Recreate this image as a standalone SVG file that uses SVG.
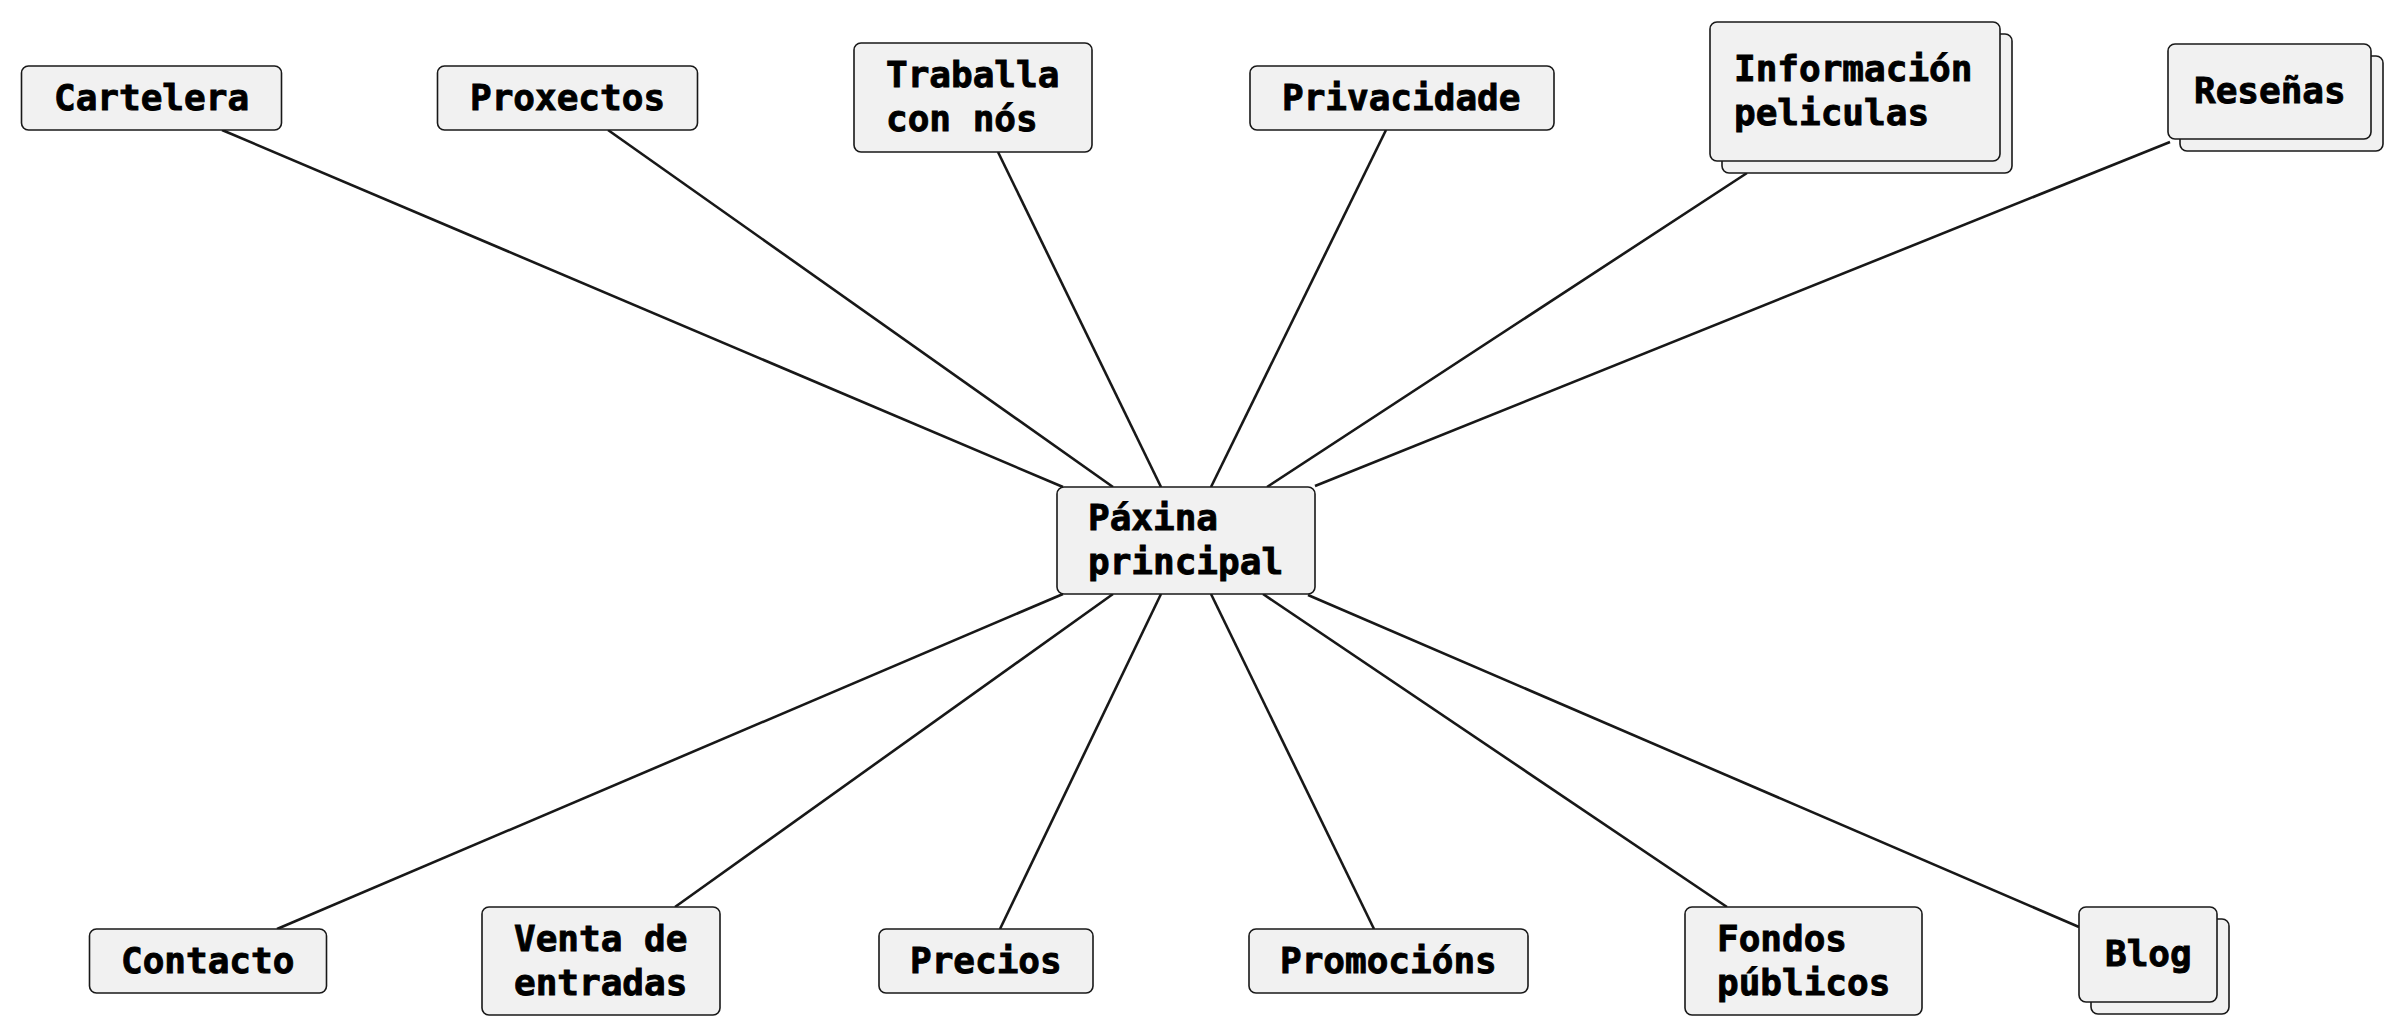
<svg xmlns="http://www.w3.org/2000/svg" width="2400" height="1031" viewBox="0 0 2400 1031">
<style>
.bg{fill:#ffffff}
.box{fill:#f1f1f1;stroke:#181818;stroke-width:1.6}
.edge{stroke:#181818;stroke-width:2.6;fill:none}
.lbl{font-family:"DejaVu Sans Mono","Liberation Mono",monospace;font-weight:bold;font-size:36px;fill:#000000;stroke:#000000;stroke-width:0.9}
</style>
<rect class="bg" x="0" y="0" width="2400" height="1031"/>
<g id="connectors">
<line class="edge" x1="222" y1="130" x2="1063" y2="487"/>
<line class="edge" x1="608" y1="130" x2="1113" y2="487"/>
<line class="edge" x1="998" y1="152" x2="1161" y2="487"/>
<line class="edge" x1="1386" y1="130" x2="1211" y2="487"/>
<line class="edge" x1="1747" y1="173" x2="1267" y2="487"/>
<line class="edge" x1="2170" y1="142" x2="1315" y2="486"/>
<line class="edge" x1="277" y1="929" x2="1063" y2="594"/>
<line class="edge" x1="675" y1="907" x2="1113" y2="594"/>
<line class="edge" x1="1000" y1="929" x2="1161" y2="594"/>
<line class="edge" x1="1374" y1="929" x2="1211" y2="594"/>
<line class="edge" x1="1727" y1="907" x2="1263" y2="594"/>
<line class="edge" x1="2079" y1="927" x2="1308" y2="595"/>
</g>
<g id="node-paxina">
<rect class="box" x="1057" y="487" width="258" height="107" rx="7"/>
<text class="lbl" x="1088" y="530">Páxina</text>
<text class="lbl" x="1088" y="574">principal</text>
</g>
<g id="node-cartelera">
<rect class="box" x="21.5" y="66" width="260" height="64" rx="7"/>
<text class="lbl" x="54" y="109.5">Cartelera</text>
</g>
<g id="node-proxectos">
<rect class="box" x="437.5" y="66" width="260" height="64" rx="7"/>
<text class="lbl" x="470" y="109.5">Proxectos</text>
</g>
<g id="node-traballa">
<rect class="box" x="854" y="43" width="238" height="109" rx="7"/>
<text class="lbl" x="886" y="87">Traballa</text>
<text class="lbl" x="886" y="131">con nós</text>
</g>
<g id="node-privacidade">
<rect class="box" x="1250" y="66" width="304" height="64" rx="7"/>
<text class="lbl" x="1282" y="109.5">Privacidade</text>
</g>
<g id="node-informacion">
<rect class="box" x="1722" y="34" width="290" height="139" rx="7"/>
<rect class="box" x="1710" y="22" width="290" height="139" rx="7"/>
<text class="lbl" x="1734" y="81">Información</text>
<text class="lbl" x="1734" y="125">peliculas</text>
</g>
<g id="node-resenas">
<rect class="box" x="2180" y="56" width="203" height="95" rx="7"/>
<rect class="box" x="2168" y="44" width="203" height="95" rx="7"/>
<text class="lbl" x="2194" y="103">Reseñas</text>
</g>
<g id="node-contacto">
<rect class="box" x="89.5" y="929" width="237" height="64" rx="7"/>
<text class="lbl" x="121" y="972.5">Contacto</text>
</g>
<g id="node-venta">
<rect class="box" x="482" y="907" width="238" height="108" rx="7"/>
<text class="lbl" x="514" y="950.5">Venta de</text>
<text class="lbl" x="514" y="994.5">entradas</text>
</g>
<g id="node-precios">
<rect class="box" x="879" y="929" width="214" height="64" rx="7"/>
<text class="lbl" x="910" y="972.5">Precios</text>
</g>
<g id="node-promocions">
<rect class="box" x="1249" y="929" width="279" height="64" rx="7"/>
<text class="lbl" x="1280" y="972.5">Promocións</text>
</g>
<g id="node-fondos">
<rect class="box" x="1685" y="907" width="237" height="108" rx="7"/>
<text class="lbl" x="1717" y="950.5">Fondos</text>
<text class="lbl" x="1717" y="994.5">públicos</text>
</g>
<g id="node-blog">
<rect class="box" x="2091" y="919" width="138" height="95" rx="7"/>
<rect class="box" x="2079" y="907" width="138" height="95" rx="7"/>
<text class="lbl" x="2105" y="966">Blog</text>
</g>
</svg>
